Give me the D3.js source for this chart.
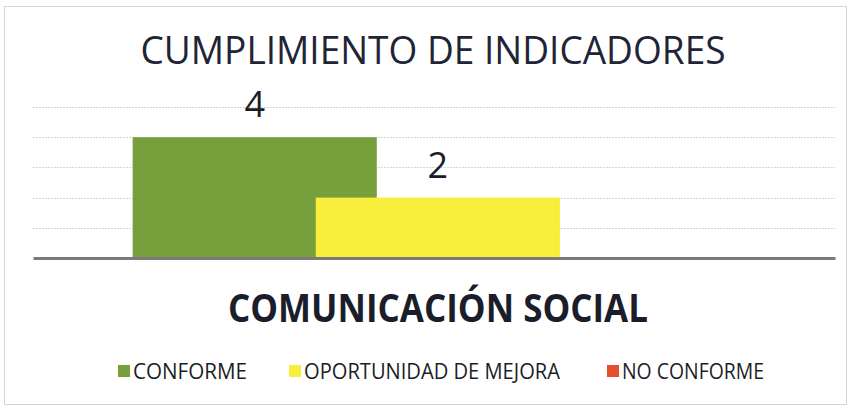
<!DOCTYPE html>
<html>
<head>
<meta charset="utf-8">
<script src="https://cdn.jsdelivr.net/npm/d3@7"></script>
<style>
  html, body { margin: 0; padding: 0; background: #fff; }
  svg { display: block; }
</style>
</head>
<body>
<svg id="chart" width="852" height="408"></svg>
<script>
const categories = ["COMUNICACIÓN SOCIAL"];
const series = ["CONFORME", "OPORTUNIDAD DE MEJORA", "NO CONFORME"];
const values = [4, 2, 0];
const colors = ["#77a03c", "#f8ef3c", "#e4502e"];
const yTicks = [0, 1, 2, 3, 4, 5];
const title = "CUMPLIMIENTO DE INDICADORES";

const svg = d3.select("#chart");
const fontFam = "'Liberation Sans Narrow', 'Open Sans', 'Noto Sans', sans-serif";

// outer border
svg.append("rect").attr("x", 4.5).attr("y", 6.5).attr("width", 842).attr("height", 398)
  .attr("fill", "#fff").attr("stroke", "#d4d4d4").attr("stroke-width", 1);

const plot = { left: 33, right: 835, top: 107, bottom: 258 };

const y = d3.scaleLinear().domain([0, 5]).range([plot.bottom, plot.top]);
const x0 = d3.scaleBand().domain(categories).range([plot.left, plot.right])
  .paddingInner(0).paddingOuter(0.157).align(0.52);
const bw = x0.bandwidth();
const x1 = d3.scaleBand().domain(series).range([0, bw * 0.9]).paddingInner(0).paddingOuter(0);
const barW = x1.step() / 0.75;

// gridlines
svg.append("g").selectAll("line").data(yTicks.filter(t => t > 0)).join("line")
  .attr("x1", plot.left).attr("x2", plot.right)
  .attr("y1", d => Math.round(y(d)) + 0.5).attr("y2", d => Math.round(y(d)) + 0.5)
  .attr("stroke", "#d6d6d6").attr("stroke-width", 1).attr("stroke-dasharray", "2,1");

// bars
const data = series.map((s, i) => ({ s, v: values[i], c: colors[i], cat: categories[0] }));
svg.append("g").selectAll("rect").data(data).join("rect")
  .attr("x", d => x0(d.cat) + x1(d.s))
  .attr("y", d => y(d.v))
  .attr("width", barW)
  .attr("height", d => y(0) - y(d.v))
  .attr("fill", d => d.c);

// baseline axis
const xAxis = d3.axisBottom(x0).tickSize(0).tickFormat("");
svg.append("g").attr("transform", `translate(0,${plot.bottom})`).call(xAxis)
  .call(g => g.select(".domain").attr("stroke", "#7a7a7a").attr("stroke-width", 3));

// value labels
svg.append("g").selectAll("text").data(data.filter(d => d.v > 0)).join("text")
  .attr("x", d => x0(d.cat) + x1(d.s) + barW / 2)
  .attr("y", d => y(d.v) - 20)
  .attr("text-anchor", "middle")
  .attr("font-family", fontFam).attr("font-size", 36)
  .attr("fill", "#1b1d26")
  .text(d => d.v);

// title
svg.append("text").attr("x", 433).attr("y", 64).attr("text-anchor", "middle")
  .attr("font-family", fontFam).attr("font-size", 38).attr("fill", "#1f2436")
  .attr("textLength", 585).attr("lengthAdjust", "spacingAndGlyphs")
  .text(title);

// category label
svg.append("text").attr("x", 438).attr("y", 322).attr("text-anchor", "middle")
  .attr("font-family", fontFam).attr("font-size", 40).attr("font-weight", "bold")
  .attr("fill", "#1b1e2a")
  .attr("textLength", 420).attr("lengthAdjust", "spacingAndGlyphs")
  .text(categories[0]);

// legend
const legendX = [118, 289, 607];
const legendTextW = [114, 256, 142];
const lg = svg.append("g").selectAll("g").data(data).join("g")
  .attr("transform", (d, i) => `translate(${legendX[i]},0)`);
lg.append("rect").attr("x", 0).attr("y", 365).attr("width", 12).attr("height", 12)
  .attr("fill", d => d.c);
lg.append("text").attr("x", 15).attr("y", 379)
  .attr("font-family", fontFam).attr("font-size", 22).attr("fill", "#1b1d26")
  .attr("textLength", (d, i) => legendTextW[i]).attr("lengthAdjust", "spacingAndGlyphs")
  .text(d => d.s);
</script>
</body>
</html>
